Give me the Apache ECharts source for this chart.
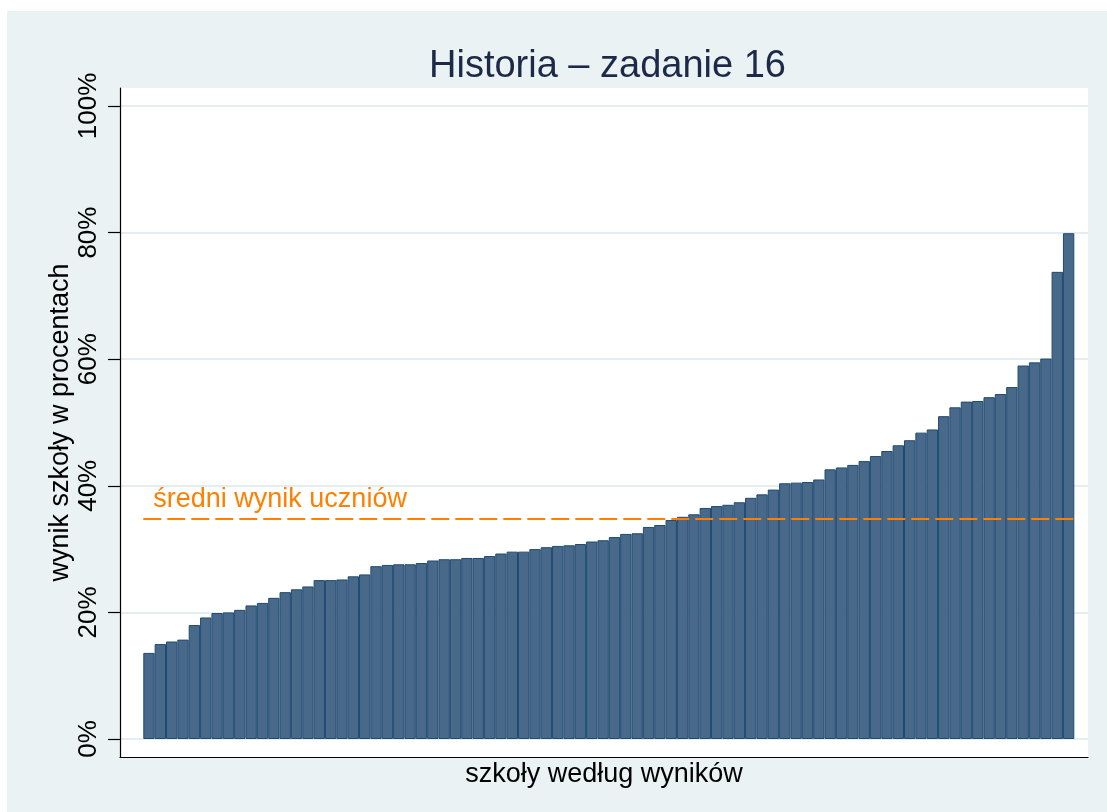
<!DOCTYPE html>
<html>
<head>
<meta charset="utf-8">
<script src="https://cdn.jsdelivr.net/npm/echarts@6/dist/echarts.min.js"></script>
<style>
html,body{margin:0;padding:0;background:#ffffff;}
#bg{position:absolute;left:7px;top:11px;width:1100px;height:801px;background:#eaf2f3;}
#chart{position:absolute;left:0;top:0;width:1107px;height:812px;}
</style>
</head>
<body>
<div id="bg"></div>
<div id="chart"></div>
<script>
const titleText = 'Historia – zadanie 16';
const xAxisName = 'szkoły według wyników';
const yAxisName = 'wynik szkoły w procentach';
const meanLabel = 'średni wynik uczniów';
const meanValue = 34.8;
const yTicks = [0, 20, 40, 60, 80, 100];
const schoolScores = [
  13.6, 15.0, 15.4, 15.7, 18.0, 19.2, 19.9, 20.0, 20.4, 21.1,
  21.5, 22.3, 23.2, 23.65, 24.1, 25.1, 25.1, 25.2, 25.7, 26.0,
  27.3, 27.5, 27.6, 27.6, 27.8, 28.2, 28.4, 28.4, 28.6, 28.6,
  28.9, 29.3, 29.6, 29.6, 30.0, 30.3, 30.5, 30.6, 30.8, 31.2,
  31.4, 31.9, 32.4, 32.5, 33.5, 33.8, 34.6, 35.1, 35.5, 36.5,
  36.8, 37.0, 37.4, 38.1, 38.65, 39.4, 40.4, 40.5, 40.6, 41.0,
  42.6, 42.9, 43.3, 43.9, 44.7, 45.5, 46.4, 47.2, 48.4, 48.9,
  51.0, 52.4, 53.3, 53.4, 54.0, 54.5, 55.6, 59.0, 59.5, 60.1,
  73.8, 79.9
];
const schools = schoolScores.map((v, i) => String(i + 1));

const FONT = '"Liberation Sans", Arial, sans-serif';
const chart = echarts.init(document.getElementById('chart'), null, {renderer: 'canvas'});
chart.setOption({
  backgroundColor: 'transparent',
  animation: false,
  title: {
    text: titleText,
    left: 424,
    top: 43,
    textStyle: {fontFamily: FONT, fontSize: 38, fontWeight: 'normal', color: '#1c2a48'}
  },
  grid: [
    {left: 120, right: 19, top: 88, bottom: 55, show: true, backgroundColor: '#ffffff', borderWidth: 0, z: 0},
    {left: 120, right: 19, top: 106, bottom: 73, show: false},
    {left: 143.3, right: 32.7, top: 106, bottom: 73, show: false}
  ],
  xAxis: [
    {gridIndex: 0, type: 'value', min: 0, max: 1, position: 'bottom',
     axisLine: {show: true, lineStyle: {color: '#000', width: 1.2}},
     axisTick: {show: false}, axisLabel: {show: false}, splitLine: {show: false},
     name: xAxisName, nameLocation: 'middle', nameGap: 4,
     nameTextStyle: {fontFamily: FONT, fontSize: 27, color: '#000', verticalAlign: 'top'}},
    {gridIndex: 1, type: 'value', min: 0, max: 1, show: false},
    {gridIndex: 2, type: 'category', data: schools, show: false, boundaryGap: true}
  ],
  yAxis: [
    {gridIndex: 0, type: 'value', min: 0, max: 1, position: 'left',
     axisLine: {show: true, lineStyle: {color: '#000', width: 1.2}},
     axisTick: {show: false}, axisLabel: {show: false}, splitLine: {show: false},
     name: yAxisName, nameLocation: 'middle', nameGap: 46,
     nameTextStyle: {fontFamily: FONT, fontSize: 27, color: '#000'}},
    {gridIndex: 1, type: 'value', min: yTicks[0], max: yTicks[yTicks.length - 1], interval: 20,
     axisLine: {show: false},
     axisTick: {show: true, inside: false, length: 12, lineStyle: {color: '#000', width: 1.2}},
     axisLabel: {show: true, rotate: 90, margin: 18, formatter: '{value}%',
       fontFamily: FONT, fontSize: 26, color: '#000'},
     splitLine: {show: true, lineStyle: {color: '#e4edf0', width: 2}}},
    {gridIndex: 2, type: 'value', min: yTicks[0], max: yTicks[yTicks.length - 1], show: false}
  ],
  series: [
    {
      type: 'bar',
      xAxisIndex: 2,
      yAxisIndex: 2,
      data: schoolScores,
      barCategoryGap: '0%',
      itemStyle: {color: '#48698a', borderColor: '#1f4a70', borderWidth: 1},
      z: 3,
      markLine: {
        silent: true,
        symbol: ['none', 'none'],
        lineStyle: {color: '#ff7f00', type: [18, 6], width: 2},
        label: {show: true, position: 'insideStartTop', formatter: meanLabel,
          fontFamily: FONT, fontSize: 27, color: '#ff7f00', distance: [10, 6]},
        data: [{yAxis: meanValue}]
      }
    }
  ]
});
</script>
</body>
</html>
